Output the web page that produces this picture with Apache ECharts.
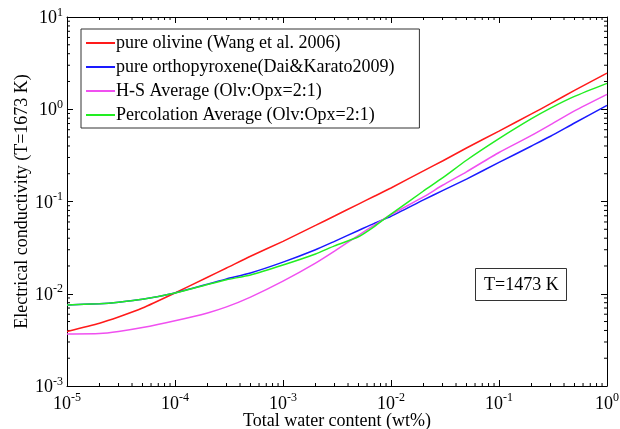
<!DOCTYPE html>
<html><head><meta charset="utf-8">
<script src="https://cdn.jsdelivr.net/npm/echarts@6/dist/echarts.min.js"></script>
<style>html,body{margin:0;padding:0;background:#fff}#c{width:620px;height:429px}</style>
</head><body><div id="c"></div>
<script>
const xValues = [1e-5, 2e-5, 3e-5, 5e-5, 1e-4, 2e-4, 3e-4, 5e-4, 1e-3, 2e-3, 3e-3, 5e-3, 7e-3, 1e-2, 2e-2, 3e-2, 5e-2, 0.1, 0.2, 0.3, 0.5, 1];
const olivine = [0.0039, 0.0048, 0.0056, 0.0070, 0.0102, 0.0151, 0.0190, 0.0255, 0.0370, 0.0550, 0.0696, 0.0938, 0.114, 0.140, 0.215, 0.275, 0.380, 0.58, 0.89, 1.15, 1.60, 2.46];
const opx = [0.00755, 0.0078, 0.0081, 0.0087, 0.0102, 0.0127, 0.0145, 0.0168, 0.0220, 0.0300, 0.0370, 0.0485, 0.058, 0.069, 0.104, 0.131, 0.175, 0.265, 0.40, 0.51, 0.71, 1.10];
const hsAvg = [0.00366, 0.0037, 0.0039, 0.0043, 0.0051, 0.0062, 0.0072, 0.0092, 0.0137, 0.0215, 0.0290, 0.0430, 0.0555, 0.072, 0.112, 0.150, 0.210, 0.34, 0.52, 0.68, 0.96, 1.45];
const percAvg = [0.00755, 0.0078, 0.0081, 0.0087, 0.0102, 0.0126, 0.0142, 0.0160, 0.0205, 0.0270, 0.0330, 0.0415, 0.0535, 0.073, 0.130, 0.180, 0.280, 0.48, 0.79, 1.03, 1.38, 1.91];
const seriesNames = ['pure olivine (Wang et al. 2006)', 'pure orthopyroxene(Dai&Karato2009)', 'H-S Average (Olv:Opx=2:1)', 'Percolation Average (Olv:Opx=2:1)'];
const seriesColors = ['#ff1a1a', '#1a1aff', '#f050f0', '#22ee22'];
const minorMults = [2, 3, 4, 5, 6, 7, 8, 9];
const xDecades = [1e-5, 1e-4, 1e-3, 1e-2, 1e-1];
const yDecades = [1e-3, 1e-2, 1e-1, 1];
const annotation = 'T=1473 K';

const FONT = 'Liberation Serif';
const chart = echarts.init(document.getElementById('c'));
const pair = (ys) => xValues.map((x, i) => [x, ys[i]]);
const allY = [olivine, opx, hsAvg, percAvg];

const minorX = [];
xDecades.forEach(d => minorMults.forEach(m => minorX.push(d * m)));
const minorY = [];
yDecades.forEach(d => minorMults.forEach(m => minorY.push(d * m)));

const supLabel = (v) => {
  const e = Math.round(Math.log10(v));
  return '{b|10}{s|' + e + '}';
};
const rich = {
  b: { fontFamily: FONT, fontSize: 18, color: '#000', lineHeight: 21, verticalAlign: 'bottom' },
  s: { fontFamily: FONT, fontSize: 12, color: '#000', lineHeight: 12, verticalAlign: 'top' }
};
const axisCommon = {
  axisLine: { lineStyle: { color: '#000', width: 1 } },
  axisTick: { inside: true, length: 6, lineStyle: { color: '#000' } },
  splitLine: { show: false }
};

const lineSeries = seriesNames.map((n, i) => ({
  name: n, type: 'line', data: pair(allY[i]), smooth: 0.2,
  showSymbol: false, symbol: 'none',
  lineStyle: { color: seriesColors[i], width: 1.5 }, itemStyle: { color: seriesColors[i] },
  xAxisIndex: 0, yAxisIndex: 0, z: 3
}));

const minorSeries = {
  type: 'custom', xAxisIndex: 0, yAxisIndex: 0, silent: true, z: 2,
  data: [0],
  renderItem: (params, api) => {
    const ch = [];
    const st = { stroke: '#000', lineWidth: 1 };
    minorX.forEach(v => {
      const b = api.coord([v, 1e-3]), t = api.coord([v, 10]);
      ch.push({ type: 'line', shape: { x1: b[0], y1: b[1], x2: b[0], y2: b[1] - 3 }, style: st });
      ch.push({ type: 'line', shape: { x1: t[0], y1: t[1], x2: t[0], y2: t[1] + 3 }, style: st });
    });
    minorY.forEach(v => {
      const l = api.coord([1e-5, v]), r = api.coord([1, v]);
      ch.push({ type: 'line', shape: { x1: l[0], y1: l[1], x2: l[0] + 3, y2: l[1] }, style: st });
      ch.push({ type: 'line', shape: { x1: r[0], y1: r[1], x2: r[0] - 3, y2: r[1] }, style: st });
    });
    return { type: 'group', children: ch };
  }
};

chart.setOption({
  animation: false,
  backgroundColor: '#fff',
  grid: { left: 67, right: 13, top: 17, bottom: 43, outerBoundsMode: 'none', containLabel: false },
  title: {
    text: annotation, left: 475, top: 268,
    borderColor: '#333', borderWidth: 1, padding: [8, 8, 7, 9],
    textStyle: { fontFamily: FONT, fontSize: 18, fontWeight: 'normal', color: '#000' }
  },
  legend: {
    data: seriesNames, orient: 'vertical', left: 81, top: 29,
    borderColor: '#333', borderWidth: 1, padding: [5, 25, 4, 5],
    itemWidth: 29, itemHeight: 2, itemGap: 6,
    icon: 'rect',
    textStyle: { fontFamily: FONT, fontSize: 18, color: '#000', padding: [0, 0, 0, -4] },
    selectedMode: false
  },
  xAxis: [
    Object.assign({
      type: 'log', logBase: 10, min: 1e-5, max: 1, position: 'bottom',
      name: 'Total water content (wt%)', nameLocation: 'middle', nameGap: 26, nameMoveOverlap: false,
      nameTextStyle: { fontFamily: FONT, fontSize: 18, color: '#000' },
      axisLabel: { formatter: supLabel, rich: rich, margin: 6 }
    }, axisCommon),
    Object.assign({
      type: 'log', logBase: 10, min: 1e-5, max: 1, position: 'top', axisLabel: { show: false }
    }, axisCommon)
  ],
  yAxis: [
    Object.assign({
      type: 'log', logBase: 10, min: 1e-3, max: 10, position: 'left',
      name: 'Electrical conductivity (T=1673 K)', nameLocation: 'middle', nameGap: 36, nameMoveOverlap: false,
      nameTextStyle: { fontFamily: FONT, fontSize: 18, color: '#000' },
      axisLabel: { formatter: supLabel, rich: rich, margin: 4 }
    }, axisCommon),
    Object.assign({
      type: 'log', logBase: 10, min: 1e-3, max: 10, position: 'right', axisLabel: { show: false }
    }, axisCommon)
  ],
  series: lineSeries.concat([minorSeries])
});
</script></body></html>
